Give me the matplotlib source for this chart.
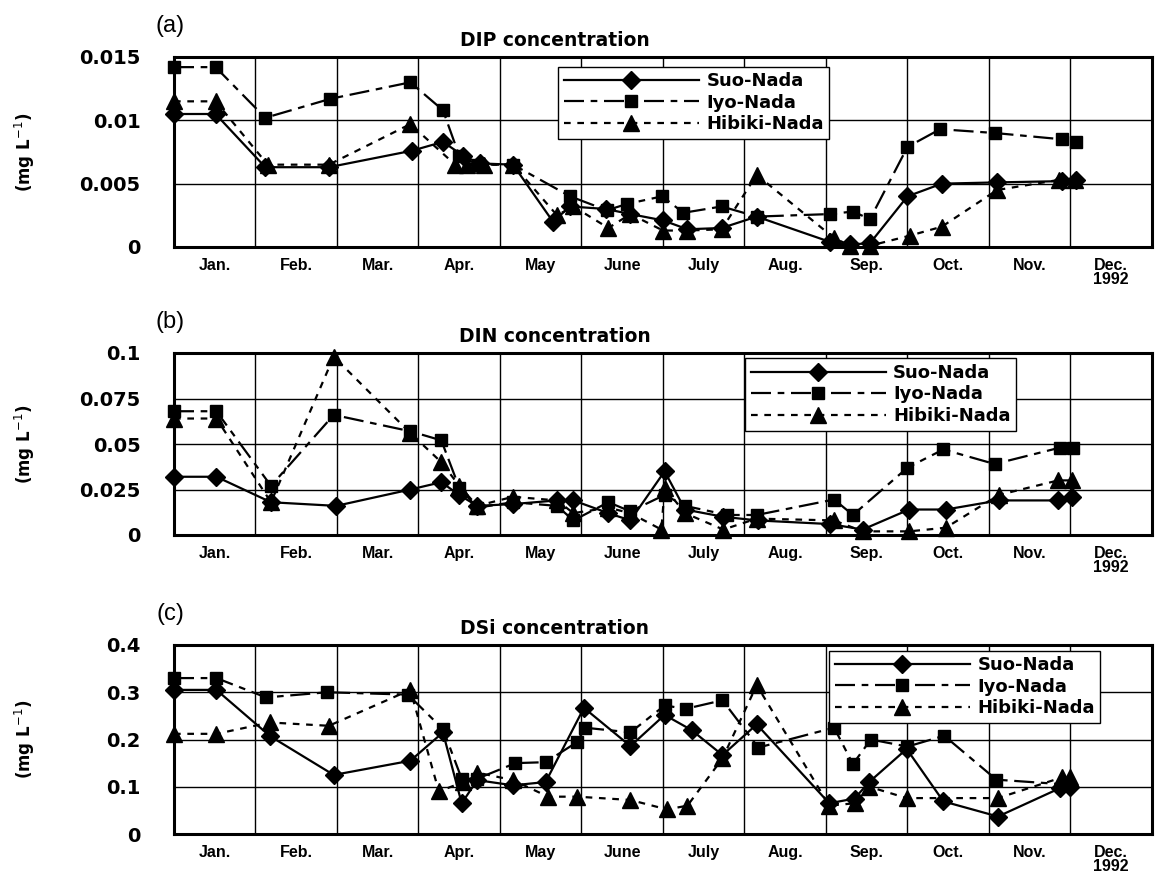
import matplotlib.pyplot as plt
import numpy as np

MONTHS = ["Jan.", "Feb.", "Mar.", "Apr.", "May", "June", "July",
          "Aug.", "Sep.", "Oct.", "Nov.", "Dec.\n1992"]
SERIES = ["Suo-Nada", "Iyo-Nada", "Hibiki-Nada"]

# x values are in months from 1 Jan (gridlines = month boundaries)
# (a) DIP
DIP_SUO_X = [0, 0.51, 1.12, 1.9, 2.92, 3.3, 3.55, 3.75, 4.16, 4.65, 4.86, 5.3, 5.6,
             6.0, 6.3, 6.72, 7.15, 8.05, 8.3, 8.54, 9.0, 9.42, 10.1, 10.9, 11.07]
DIP_SUO_Y = [0.0105, 0.0105, 0.0063, 0.0063, 0.0076, 0.0083, 0.0072, 0.0066, 0.0065,
             0.0020, 0.0032, 0.0030, 0.0026, 0.0021, 0.0014, 0.0015, 0.0024, 0.0004,
             0.0002, 0.0003, 0.0040, 0.0050, 0.0051, 0.0052, 0.0053]
DIP_IYO_X = [0, 0.51, 1.12, 1.92, 2.9, 3.3, 3.5, 3.73, 4.16, 4.86, 5.31, 5.56, 5.99,
             6.25, 6.72, 7.15, 8.05, 8.33, 8.54, 9.0, 9.4, 10.07, 10.9, 11.07]
DIP_IYO_Y = [0.0142, 0.0142, 0.0102, 0.0117, 0.0130, 0.0108, 0.0072, 0.0065, 0.0065,
             0.0040, 0.0029, 0.0034, 0.0040, 0.0027, 0.0032, 0.0024, 0.0026, 0.0028,
             0.0022, 0.0079, 0.0093, 0.0090, 0.0085, 0.0083]
DIP_HIB_X = [0, 0.51, 1.15, 1.9, 2.9, 3.45, 3.6, 3.8, 4.16, 4.7, 4.9, 5.33, 5.6, 6.0,
             6.3, 6.72, 7.15, 8.1, 8.3, 8.54, 9.03, 9.42, 10.1, 10.86, 11.05]
DIP_HIB_Y = [0.0115, 0.0115, 0.0065, 0.0065, 0.0097, 0.0065, 0.0065, 0.0065, 0.0065,
             0.0025, 0.0032, 0.0015, 0.0026, 0.0013, 0.0013, 0.0014, 0.0057, 0.0007,
             0.0001, 0.0001, 0.0009, 0.0016, 0.0045, 0.0053, 0.0053]

# (b) DIN
DIN_SUO_X = [0, 0.52, 1.19, 1.99, 2.9, 3.28, 3.5, 3.72, 4.16, 4.7, 4.9, 5.33, 5.6,
             6.02, 6.27, 6.74, 7.16, 8.05, 8.45, 9.02, 9.47, 10.12, 10.85, 11.02]
DIN_SUO_Y = [0.032, 0.032, 0.018, 0.016, 0.025, 0.029, 0.022, 0.016, 0.017, 0.019,
             0.019, 0.012, 0.008, 0.035, 0.014, 0.010, 0.008, 0.006, 0.003, 0.014,
             0.014, 0.019, 0.019, 0.021]
DIN_IYO_X = [0, 0.52, 1.19, 1.96, 2.9, 3.28, 3.5, 3.72, 4.16, 4.7, 4.9, 5.33, 5.6,
             6.02, 6.27, 6.79, 7.15, 8.1, 8.33, 9.0, 9.44, 10.07, 10.87, 11.03]
DIN_IYO_Y = [0.068, 0.068, 0.027, 0.066, 0.057, 0.052, 0.026, 0.015, 0.018, 0.016,
             0.008, 0.018, 0.013, 0.022, 0.016, 0.011, 0.011, 0.0195, 0.011, 0.037,
             0.047, 0.039, 0.048, 0.048]
DIN_HIB_X = [0, 0.52, 1.19, 1.96, 2.9, 3.28, 3.5, 3.72, 4.16, 4.7, 4.9, 5.33, 5.6,
             5.98, 6.02, 6.27, 6.74, 7.15, 8.1, 8.45, 9.02, 9.47, 10.12, 10.85, 11.02]
DIN_HIB_Y = [0.064, 0.064, 0.018, 0.098, 0.056, 0.040, 0.027, 0.016, 0.021, 0.019,
             0.012, 0.015, 0.012, 0.003, 0.026, 0.012, 0.003, 0.009, 0.008, 0.002,
             0.002, 0.004, 0.022, 0.030, 0.030]

# (c) DSi
DSI_SUO_X = [0, 0.52, 1.18, 1.96, 2.9, 3.3, 3.53, 3.72, 4.16, 4.56, 5.03, 5.6, 6.02,
             6.35, 6.73, 7.15, 8.04, 8.35, 8.53, 8.99, 9.44, 10.11, 10.87, 11.0]
DSI_SUO_Y = [0.305, 0.305, 0.207, 0.125, 0.155, 0.215, 0.065, 0.114, 0.103, 0.110,
             0.267, 0.186, 0.252, 0.220, 0.167, 0.232, 0.065, 0.075, 0.110, 0.180,
             0.069, 0.037, 0.097, 0.100]
DSI_IYO_X = [0, 0.52, 1.13, 1.88, 2.87, 3.3, 3.53, 3.72, 4.19, 4.56, 4.95, 5.04, 5.6,
             6.02, 6.28, 6.73, 7.17, 8.1, 8.33, 8.55, 9.0, 9.45, 10.09, 10.93]
DSI_IYO_Y = [0.330, 0.330, 0.289, 0.300, 0.295, 0.222, 0.117, 0.117, 0.150, 0.152,
             0.195, 0.225, 0.215, 0.272, 0.265, 0.283, 0.183, 0.225, 0.148, 0.200,
             0.185, 0.208, 0.115, 0.105]
DSI_HIB_X = [0, 0.52, 1.18, 1.9, 2.9, 3.25, 3.55, 3.72, 4.16, 4.59, 4.95, 5.6, 6.05,
             6.3, 6.73, 7.15, 8.04, 8.35, 8.53, 8.99, 10.11, 10.9, 11.0]
DSI_HIB_Y = [0.212, 0.212, 0.236, 0.229, 0.305, 0.090, 0.110, 0.130, 0.114, 0.079,
             0.079, 0.072, 0.052, 0.060, 0.160, 0.315, 0.060, 0.065, 0.100, 0.076,
             0.076, 0.120, 0.120]

PANELS = [
    dict(letter="(a)", title="DIP concentration",
         data=[(DIP_SUO_X, DIP_SUO_Y), (DIP_IYO_X, DIP_IYO_Y), (DIP_HIB_X, DIP_HIB_Y)],
         yticks=[0, 0.005, 0.01, 0.015], ylabels=["0", "0.005", "0.01", "0.015"],
         top_px=57, bottom_px=247, legend_xy=(0.393, 0.95)),
    dict(letter="(b)", title="DIN concentration",
         data=[(DIN_SUO_X, DIN_SUO_Y), (DIN_IYO_X, DIN_IYO_Y), (DIN_HIB_X, DIN_HIB_Y)],
         yticks=[0, 0.025, 0.05, 0.075, 0.1],
         ylabels=["0", "0.025", "0.05", "0.075", "0.1"],
         top_px=353, bottom_px=535, legend_xy=(0.584, 0.97)),
    dict(letter="(c)", title="DSi concentration",
         data=[(DSI_SUO_X, DSI_SUO_Y), (DSI_IYO_X, DSI_IYO_Y), (DSI_HIB_X, DSI_HIB_Y)],
         yticks=[0, 0.1, 0.2, 0.3, 0.4], ylabels=["0", "0.1", "0.2", "0.3", "0.4"],
         top_px=645, bottom_px=834, legend_xy=(0.67, 0.97)),
]

STYLES = [
    dict(marker="D", markersize=9, dashes=None),
    dict(marker="s", markersize=9, dashes=(9, 3, 3, 3)),
    dict(marker="^", markersize=11, dashes=(3, 3)),
]

W, H = 1155, 874
LEFT_PX, RIGHT_PX = 174, 1152

plt.rcParams["font.family"] = "DejaVu Sans"
fig = plt.figure(figsize=(W / 100, H / 100), dpi=100)

for p in PANELS:
    rect = [LEFT_PX / W, 1 - p["bottom_px"] / H,
            (RIGHT_PX - LEFT_PX) / W, (p["bottom_px"] - p["top_px"]) / H]
    ax = fig.add_axes(rect)
    for (xs, ys), name, st in zip(p["data"], SERIES, STYLES):
        line, = ax.plot(xs, ys, color="black", linewidth=1.6, marker=st["marker"],
                        markersize=st["markersize"], markerfacecolor="black",
                        markeredgecolor="black", label=name, clip_on=False, zorder=3)
        if st["dashes"] is not None:
            line.set_dashes(st["dashes"])

    ax.set_xlim(0, 12)
    ax.set_ylim(p["yticks"][0], p["yticks"][-1])
    ax.set_xticks(range(13))
    ax.set_xticklabels([])
    ax.set_xticks(np.arange(12) + 0.5, minor=True)
    ax.set_xticklabels(MONTHS, minor=True, fontsize=11.5, fontweight="bold",
                       family="Liberation Sans", linespacing=0.9)
    ax.set_yticks(p["yticks"])
    ax.set_yticklabels(p["ylabels"], fontsize=14, fontweight="bold")
    ax.tick_params(axis="both", which="both", length=0)
    ax.tick_params(axis="y", pad=24)
    ax.tick_params(axis="x", which="minor", pad=8)
    ax.grid(True, which="major", color="black", linewidth=1.0)
    ax.set_axisbelow(True)
    for sp in ax.spines.values():
        sp.set_linewidth(2.2)

    leg = ax.legend(loc="upper left", bbox_to_anchor=p["legend_xy"],
                    handlelength=7.5, numpoints=1, fancybox=False, framealpha=1,
                    edgecolor="black", prop=dict(weight="bold", size=13),
                    borderpad=0.3, labelspacing=0.2, handletextpad=0.4,
                    borderaxespad=0)
    leg.get_frame().set_linewidth(1.0)
    leg.set_zorder(5)

    top = p["top_px"]
    fig.text(170 / W, 1 - (top - 31) / H, p["letter"], fontsize=17,
             ha="center", va="center", family="Liberation Sans")
    fig.text(555 / W, 1 - (top - 16) / H, p["title"], fontsize=13.5,
             fontweight="bold", ha="center", va="center")
    fig.text(25 / W, 1 - (top + p["bottom_px"]) / 2 / H, "(mg L$^{-1}$)",
             rotation=90, fontsize=12, fontweight="bold", ha="center", va="center")

fig.savefig("out.png", dpi=100)
